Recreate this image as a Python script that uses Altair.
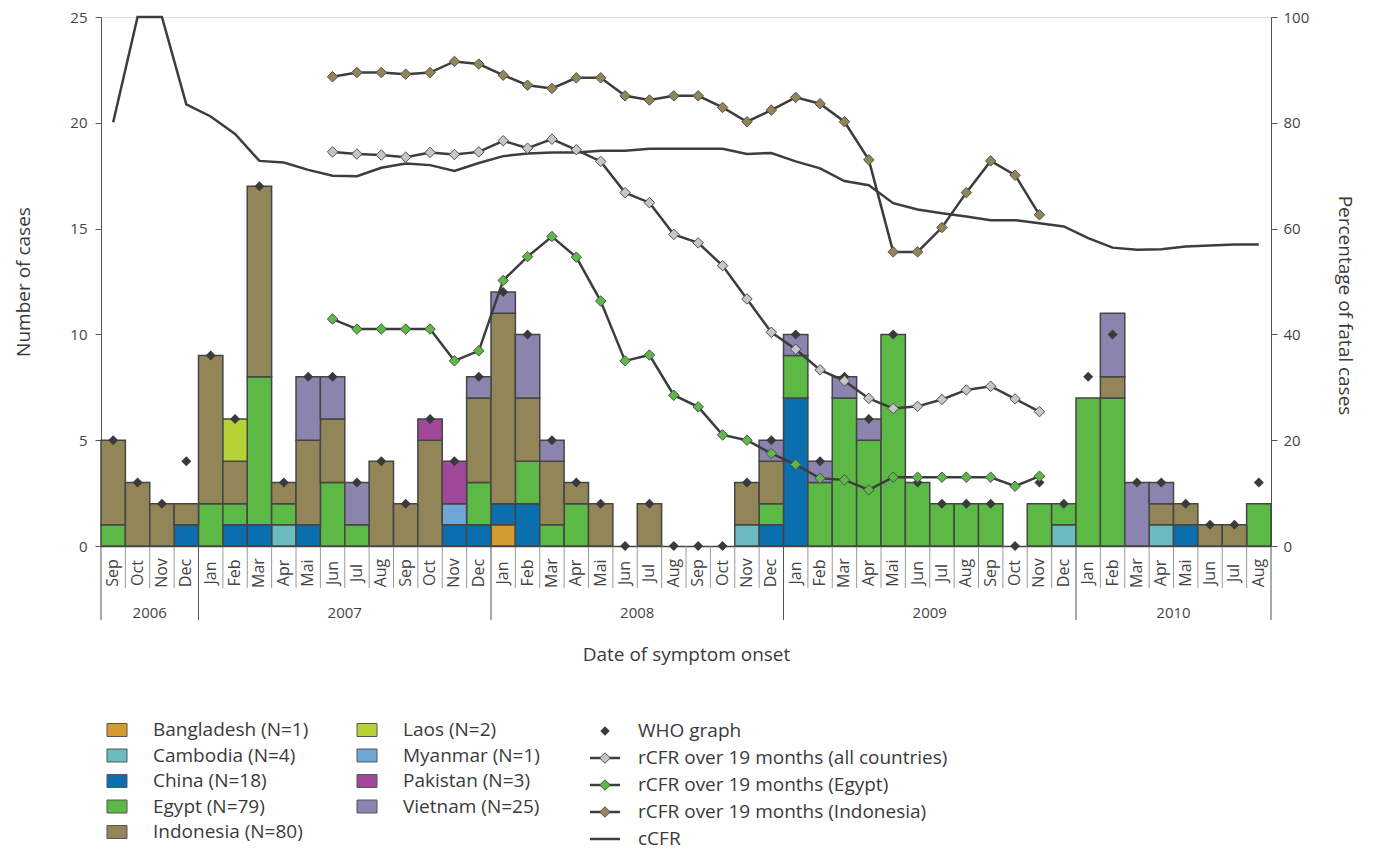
import altair as alt
import pandas as pd

# ---------------- data ----------------
yr = ["Jan", "Feb", "Mar", "Apr", "Mai", "Jun", "Jul", "Aug", "Sep", "Oct", "Nov", "Dec"]
months = ["Sep", "Oct", "Nov", "Dec"] + yr + yr + yr + yr[:8]
years = [2006] * 4 + [2007] * 12 + [2008] * 12 + [2009] * 12 + [2010] * 8

#                2006        2007                                   2008                                   2009                                    2010
bangladesh = [0, 0, 0, 0,  0, 0, 0, 0, 0, 0, 0, 0, 0, 0, 0, 0,  1, 0, 0, 0, 0, 0, 0, 0, 0, 0, 0, 0,  0, 0, 0, 0, 0, 0, 0, 0, 0, 0, 0, 0,  0, 0, 0, 0, 0, 0, 0, 0]
cambodia   = [0, 0, 0, 0,  0, 0, 0, 1, 0, 0, 0, 0, 0, 0, 0, 0,  0, 0, 0, 0, 0, 0, 0, 0, 0, 0, 1, 0,  0, 0, 0, 0, 0, 0, 0, 0, 0, 0, 0, 1,  0, 0, 0, 1, 0, 0, 0, 0]
china      = [0, 0, 0, 1,  0, 1, 1, 0, 1, 0, 0, 0, 0, 0, 1, 1,  1, 2, 0, 0, 0, 0, 0, 0, 0, 0, 0, 1,  7, 0, 0, 0, 0, 0, 0, 0, 0, 0, 0, 0,  0, 0, 0, 0, 1, 0, 0, 0]
egypt      = [1, 0, 0, 0,  2, 1, 7, 1, 0, 3, 1, 0, 0, 0, 0, 2,  0, 2, 1, 2, 0, 0, 0, 0, 0, 0, 0, 1,  2, 3, 7, 5, 10, 3, 2, 2, 2, 0, 2, 1, 7, 7, 0, 0, 0, 0, 0, 2]
indonesia  = [4, 3, 2, 1,  7, 2, 9, 1, 4, 3, 0, 4, 2, 5, 0, 4,  9, 3, 3, 1, 2, 0, 2, 0, 0, 0, 2, 2,  0, 0, 0, 0, 0, 0, 0, 0, 0, 0, 0, 0,  0, 1, 0, 1, 1, 1, 1, 0]
laos       = [0, 0, 0, 0,  0, 2, 0, 0, 0, 0, 0, 0, 0, 0, 0, 0,  0, 0, 0, 0, 0, 0, 0, 0, 0, 0, 0, 0,  0, 0, 0, 0, 0, 0, 0, 0, 0, 0, 0, 0,  0, 0, 0, 0, 0, 0, 0, 0]
myanmar    = [0, 0, 0, 0,  0, 0, 0, 0, 0, 0, 0, 0, 0, 0, 1, 0,  0, 0, 0, 0, 0, 0, 0, 0, 0, 0, 0, 0,  0, 0, 0, 0, 0, 0, 0, 0, 0, 0, 0, 0,  0, 0, 0, 0, 0, 0, 0, 0]
pakistan   = [0, 0, 0, 0,  0, 0, 0, 0, 0, 0, 0, 0, 0, 1, 2, 0,  0, 0, 0, 0, 0, 0, 0, 0, 0, 0, 0, 0,  0, 0, 0, 0, 0, 0, 0, 0, 0, 0, 0, 0,  0, 0, 0, 0, 0, 0, 0, 0]
vietnam    = [0, 0, 0, 0,  0, 0, 0, 0, 3, 2, 2, 0, 0, 0, 0, 1,  1, 3, 1, 0, 0, 0, 0, 0, 0, 0, 0, 1,  1, 1, 1, 1, 0, 0, 0, 0, 0, 0, 0, 0,  0, 3, 3, 1, 0, 0, 0, 0]

who_graph = [5, 3, 2, 4,  9, 6, 17, 3, 8, 8, 3, 4, 2, 6, 4, 8,  12, 10, 5, 3, 2, 0, 2, 0, 0, 0, 3, 5,
             10, 4, 8, 6, 10, 3, 2, 2, 2, 0, 3, 2,  8, 10, 3, 3, 2, 1, 1, 3]

# rCFR over 19 months: Jun 2007 (index 9) .. Nov 2009 (index 38)
rcfr_start = 9
rcfr_all = [74.5, 74.1, 73.9, 73.5, 74.4, 74.0, 74.5,
            76.6, 75.2, 76.9, 74.9, 72.7, 66.8, 64.9, 58.9, 57.3, 53.0, 46.7, 40.4,
            37.2, 33.3, 31.2, 27.9, 26.0, 26.4, 27.7, 29.5, 30.2, 27.8, 25.4]
rcfr_egypt = [42.9, 41.0, 41.0, 41.0, 41.0, 35.0, 36.9,
              50.2, 54.7, 58.5, 54.6, 46.3, 35.0, 36.1, 28.5, 26.3, 21.0, 20.0, 17.5,
              15.4, 12.8, 12.5, 10.6, 13.0, 13.0, 13.0, 13.0, 13.0, 11.3, 13.2]
rcfr_indonesia = [88.7, 89.5, 89.5, 89.2, 89.5, 91.6, 91.1,
                  89.0, 87.1, 86.5, 88.5, 88.5, 85.1, 84.3, 85.1, 85.1, 82.9, 80.2, 82.4,
                  84.8, 83.6, 80.2, 73.0, 55.6, 55.6, 60.2, 66.8, 72.8, 70.1, 62.6]
ccfr = [80.1, 100, 100, 83.5,
        81.2, 77.9, 72.8, 72.5, 71.1, 70.0, 69.9, 71.5, 72.3, 72.0, 70.9, 72.4,
        73.7, 74.2, 74.4, 74.4, 74.7, 74.7, 75.1, 75.1, 75.1, 75.1, 74.1, 74.3,
        72.7, 71.4, 69.0, 68.2, 64.8, 63.6, 62.9, 62.3, 61.6, 61.6, 61.0, 60.4,
        58.2, 56.4, 56.0, 56.1, 56.6, 56.8, 57.0, 57.0]

country_names = ["Bangladesh (N=1)", "Cambodia (N=4)", "China (N=18)", "Egypt (N=79)",
                 "Indonesia (N=80)", "Laos (N=2)", "Myanmar (N=1)", "Pakistan (N=3)", "Vietnam (N=25)"]
country_series = [bangladesh, cambodia, china, egypt, indonesia, laos, myanmar, pakistan, vietnam]
country_colors = ["#d39b33", "#6bbcc1", "#0a6fae", "#5cb946", "#928558",
                  "#b5d334", "#6fa6d6", "#a2489a", "#8b84ae"]

rcfr_names = ["rCFR over 19 months (all countries)", "rCFR over 19 months (Egypt)",
              "rCFR over 19 months (Indonesia)"]
rcfr_series = [rcfr_all, rcfr_egypt, rcfr_indonesia]
rcfr_colors = ["#c5c6c9", "#5cb946", "#928558"]

line_legend = ["WHO graph"] + rcfr_names + ["cCFR"]

# ---------------- tables ----------------
n = len(months)
bar_rows = []
for rank, (name, vals) in enumerate(zip(country_names, country_series)):
    for i, v in enumerate(vals):
        if v > 0:
            bar_rows.append({"i": i, "country": name, "count": v, "rank": rank})
bars_df = pd.DataFrame(bar_rows)

who_df = pd.DataFrame({"i": list(range(n)), "who": who_graph})

rcfr_rows = []
for name, vals in zip(rcfr_names, rcfr_series):
    for k, v in enumerate(vals):
        rcfr_rows.append({"i": rcfr_start + k, "series": name, "pct": v})
rcfr_df = pd.DataFrame(rcfr_rows)
ccfr_df = pd.DataFrame({"i": list(range(n)), "pct": ccfr})

month_df = pd.DataFrame({"i": list(range(n)), "month": months, "year": years})
bounds = list(range(n + 1))
is_year = [b == 0 or b == n or months[b] == "Jan" for b in bounds]
bound_df = pd.DataFrame({"b": bounds, "yearline": is_year})

country_leg_df = pd.DataFrame({"country": country_names, "idx": list(range(len(country_names)))})
line_leg_df = pd.DataFrame({"name": line_legend, "idx": list(range(len(line_legend)))})

# ---------------- styles ----------------
FONT = "Open Sans"
TXT = "#3a3a3a"
X_SCALE = alt.Scale(domain=[0, n], nice=False, zero=False)
X_AXIS = alt.Axis(labels=False, ticks=False, grid=False, domain=True, domainColor="#444",
                  domainWidth=1.5, title="Date of symptom onset", titleFontSize=19,
                  titleFontWeight="normal", titleColor=TXT, titleFont=FONT, titlePadding=99)
Y_L = alt.Scale(domain=[0, 25], nice=False)
Y_L_AXIS = alt.Axis(orient="left", values=[0, 5, 10, 15, 20, 25], grid=False, title="Number of cases",
                    titleFontSize=19, titleFontWeight="normal", titleColor=TXT, titleFont=FONT,
                    titlePadding=36, labelFontSize=15, labelColor="#444", labelFont=FONT,
                    labelPadding=8, tickSize=6, tickColor="#555", domainColor="#555")
Y_R = alt.Scale(domain=[0, 100], nice=False)
Y_R_AXIS = alt.Axis(orient="right", values=[0, 20, 40, 60, 80, 100], grid=False,
                    title="Percentage of fatal cases", titleFontSize=19, titleFontWeight="normal",
                    titleColor=TXT, titleFont=FONT, titlePadding=26, titleY=288,
                    labelFontSize=15, labelColor="#444", labelFont=FONT, labelPadding=6,
                    tickSize=6, tickColor="#555", domainColor="#555")
FILL = alt.Fill("country:N", scale=alt.Scale(domain=country_names, range=country_colors), legend=None)
RCOL = alt.Color("series:N", scale=alt.Scale(domain=rcfr_names, range=rcfr_colors), legend=None)

# ---------------- axis decorations ----------------
month_rules = alt.Chart(bound_df).transform_filter("!datum.yearline").mark_rule(
    color="#9a9a9a", strokeWidth=1).encode(
    x=alt.X("b:Q", scale=X_SCALE, axis=X_AXIS), y=alt.value(529), y2=alt.value(571))
year_rules = alt.Chart(bound_df).transform_filter("datum.yearline").mark_rule(
    color="#555", strokeWidth=1).encode(
    x=alt.X("b:Q", scale=X_SCALE, axis=X_AXIS), y=alt.value(529), y2=alt.value(603))
month_text = alt.Chart(month_df).transform_calculate(xc="datum.i + 0.5").mark_text(
    angle=270, align="center", baseline="middle", fontSize=16, font=FONT, color="#444").encode(
    x=alt.X("xc:Q", scale=X_SCALE, axis=X_AXIS), y=alt.value(556), text="month:N")
year_text = alt.Chart(month_df).transform_aggregate(
    lo="min(i)", hi="max(i)", groupby=["year"]).transform_calculate(
    xc="(datum.lo + datum.hi + 1) / 2").mark_text(
    align="center", baseline="middle", fontSize=15, font=FONT, color="#444").encode(
    x=alt.X("xc:Q", scale=X_SCALE, axis=X_AXIS), y=alt.value(596), text="year:N")
deco = alt.layer(month_rules, year_rules, month_text, year_text)

# ---------------- left: cases ----------------
bars = alt.Chart(bars_df).transform_stack(
    stack="count", groupby=["i"], as_=["y0", "y1"],
    sort=[alt.SortField("rank", order="ascending")]).transform_calculate(
    x1="datum.i + 1").mark_rect(stroke="#454545", strokeWidth=1.5).encode(
    x=alt.X("i:Q", scale=X_SCALE, axis=X_AXIS), x2="x1:Q",
    y=alt.Y("y0:Q", scale=Y_L, axis=Y_L_AXIS), y2="y1:Q", fill=FILL)
who = alt.Chart(who_df).transform_calculate(xc="datum.i + 0.5").mark_point(
    shape="diamond", filled=True, size=100, color="#3a3a3a", opacity=1).encode(
    x=alt.X("xc:Q", scale=X_SCALE, axis=X_AXIS), y=alt.Y("who:Q", scale=Y_L, axis=Y_L_AXIS))
left = alt.layer(bars, who)

# ---------------- right: percentages ----------------
ccfr_line = alt.Chart(ccfr_df).transform_calculate(xc="datum.i + 0.5").mark_line(
    color="#3d3d3d", strokeWidth=2.5).encode(
    x=alt.X("xc:Q", scale=X_SCALE, axis=X_AXIS), y=alt.Y("pct:Q", scale=Y_R, axis=Y_R_AXIS))
rcfr_line = alt.Chart(rcfr_df).transform_calculate(xc="datum.i + 0.5").mark_line(
    color="#3d3d3d", strokeWidth=2.5).encode(
    x=alt.X("xc:Q", scale=X_SCALE, axis=X_AXIS), y=alt.Y("pct:Q", scale=Y_R, axis=Y_R_AXIS),
    detail="series:N")
rcfr_pts = alt.Chart(rcfr_df).transform_calculate(xc="datum.i + 0.5").mark_point(
    shape="diamond", filled=True, size=110, stroke="#505050", strokeWidth=1, opacity=1).encode(
    x=alt.X("xc:Q", scale=X_SCALE, axis=X_AXIS), y=alt.Y("pct:Q", scale=Y_R, axis=Y_R_AXIS),
    color=RCOL)
right = alt.layer(ccfr_line, rcfr_line, rcfr_pts)

# ---------------- legend ----------------
cl = alt.Chart(country_leg_df).transform_calculate(
    lx="6 + floor(datum.idx / 5) * 250", ly="713 + (datum.idx % 5) * 25.5",
    lx2="datum.lx + 20", ly0="datum.ly - 6.5", ly1="datum.ly + 6.5", tx="datum.lx + 46")
cl_rect = cl.mark_rect(stroke="#555", strokeWidth=1).encode(
    x=alt.X("lx:Q", scale=None), x2="lx2:Q", y=alt.Y("ly0:Q", scale=None), y2="ly1:Q", fill=FILL)
cl_text = cl.mark_text(align="left", baseline="middle", fontSize=19, font=FONT, color=TXT).encode(
    x=alt.X("tx:Q", scale=None), y=alt.Y("ly:Q", scale=None), text="country:N")

ll = alt.Chart(line_leg_df).transform_calculate(
    lx="504", ly="714 + datum.idx * 27", la="489", lb="519", tx="537", series="datum.name")
ll_rule = ll.transform_filter("datum.idx > 0").mark_rule(color="#3d3d3d", strokeWidth=2.5).encode(
    x=alt.X("la:Q", scale=None), x2="lb:Q", y=alt.Y("ly:Q", scale=None))
ll_who = ll.transform_filter("datum.idx == 0").mark_point(
    shape="diamond", filled=True, size=90, color="#3a3a3a", opacity=1).encode(
    x=alt.X("lx:Q", scale=None), y=alt.Y("ly:Q", scale=None))
ll_pts = ll.transform_filter("datum.idx > 0 && datum.idx < 4").mark_point(
    shape="diamond", filled=True, size=110, stroke="#505050", strokeWidth=1, opacity=1).encode(
    x=alt.X("lx:Q", scale=None), y=alt.Y("ly:Q", scale=None), color=RCOL)
ll_text = ll.mark_text(align="left", baseline="middle", fontSize=19, font=FONT, color=TXT).encode(
    x=alt.X("tx:Q", scale=None), y=alt.Y("ly:Q", scale=None), text="name:N")
legend = alt.layer(cl_rect, cl_text, ll_rule, ll_who, ll_pts, ll_text)

chart = alt.layer(deco, left, right, legend).resolve_scale(y="independent").properties(
    width=1170, height=529,
    padding={"left": 93, "top": 9, "right": 96, "bottom": 306},
    autosize=alt.AutoSizeParams(type="none"),
).configure_view(stroke=None).configure(font=FONT)

chart.save("out.html", embed_options={"renderer": "svg", "actions": False})
